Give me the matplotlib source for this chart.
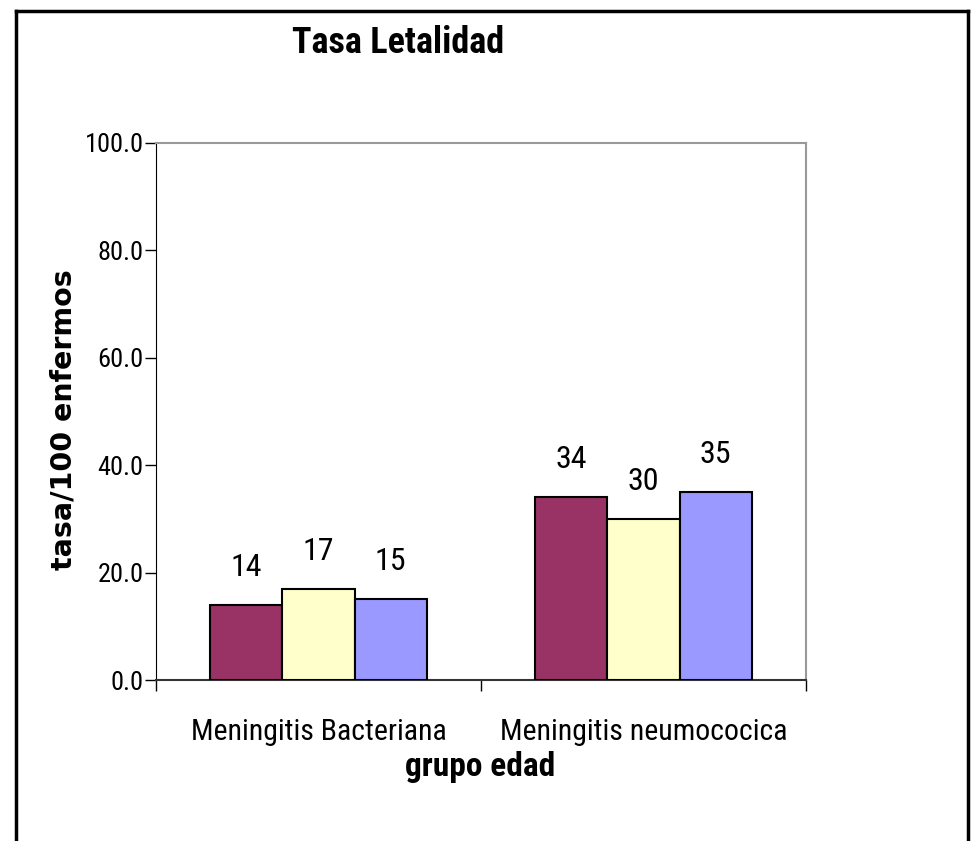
import numpy as np
import matplotlib.pyplot as plt
from matplotlib.lines import Line2D

plt.rcParams['font.family'] = ['Roboto Condensed', 'Liberation Sans', 'DejaVu Sans']

categorias = ["Meningitis Bacteriana", "Meningitis neumococica"]
serie_1 = [14, 34]
serie_2 = [17, 30]
serie_3 = [15, 35]
colores = ["#993366", "#FFFFCC", "#9999FF"]
yticks = [0, 20, 40, 60, 80, 100]

W, H = 973, 841
fig = plt.figure(figsize=(W / 100, H / 100), dpi=100)
ax = fig.add_axes([156 / W, 1 - 680 / H, (806 - 156) / W, (680 - 143) / H])

x = np.arange(len(categorias))
ancho = 1 / 4.5
for i, (vals, col) in enumerate(zip([serie_1, serie_2, serie_3], colores)):
    pos = x + (i - 1) * ancho
    ax.bar(pos, vals, width=ancho, color=col, edgecolor="black", linewidth=1.5, zorder=3)
    for xp, v in zip(pos, vals):
        ax.annotate(f"{v}", (xp, v), xytext=(0, 27), textcoords="offset points",
                    ha="center", va="center", fontsize=23)

ax.set_xlim(-0.5, 1.5)
ax.set_ylim(0, 100)
ax.set_yticks(yticks)
ax.set_yticklabels([f"{t:.1f}" for t in yticks], fontsize=19)
ax.set_xticks([-0.5, 0.5, 1.5], minor=False)
ax.set_xticklabels([])
ax.set_xticks(x, minor=True)
ax.set_xticklabels(categorias, minor=True, fontsize=21.5)
ax.tick_params(axis="x", which="minor", length=0, pad=27)
ax.tick_params(axis="x", which="major", length=8, width=1, direction="out")
ax.tick_params(axis="y", length=8, width=1, direction="out", pad=1)

ax.spines["left"].set_color("black")
ax.spines["bottom"].set_color("#333333")
ax.spines["bottom"].set_linewidth(1.5)
ax.spines["top"].set_color("#999999")
ax.spines["right"].set_color("#999999")
ax.spines["top"].set_linewidth(1.5)
ax.spines["right"].set_linewidth(1.5)

ax.set_xlabel("grupo edad", fontsize=24, fontweight="bold", va="center")
ax.xaxis.set_label_coords((480 - 156) / 650, (680 - 767) / 537)
ax.set_ylabel("tasa/100 enfermos", fontsize=20.5, fontweight="bold", va="center",
              family=["DejaVu Sans"])
ax.yaxis.set_label_coords((64 - 156) / 650, (680 - 420) / 537)

fig.text(398 / W, 1 - 43 / H, "Tasa Letalidad", fontsize=26, fontweight="bold",
         ha="center", va="center")

# marco exterior
for xs, ys in [([16, 16], [11, H]), ([16, 968], [11, 11]), ([968, 968], [11, H])]:
    fig.add_artist(Line2D([v / W for v in xs], [1 - v / H for v in ys],
                          color="black", linewidth=2.5, transform=fig.transFigure))

fig.savefig("out.png", dpi=100)
